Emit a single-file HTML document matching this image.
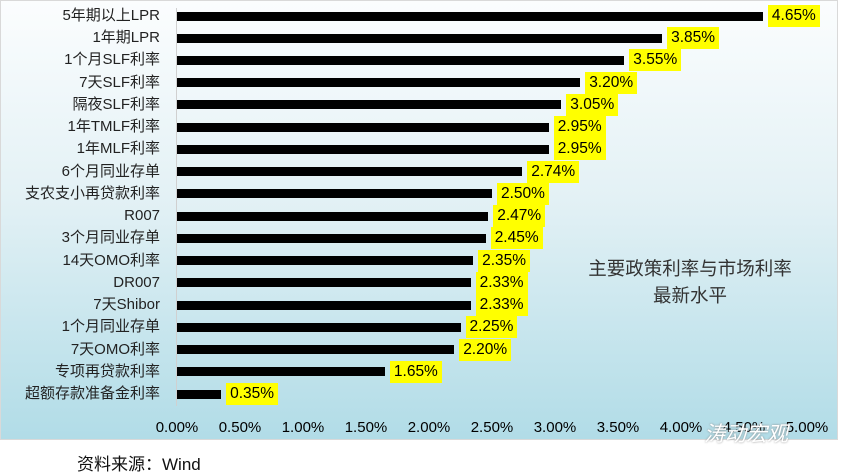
<!DOCTYPE html>
<html><head><meta charset="utf-8"><style>
body{margin:0;width:841px;height:470px;background:#fff;position:relative;overflow:hidden;font-family:"Liberation Sans","Noto Sans CJK SC",sans-serif;}
#chart{position:absolute;left:0;top:0;width:838px;height:440px;border:1px solid #d9d9d9;box-sizing:border-box;background:linear-gradient(to bottom,#fbfdfe 0%,#e3f1f5 45%,#b1dce7 100%);}
.cat{position:absolute;right:681px;font-size:15px;color:#222;white-space:nowrap;line-height:20px;}
.bar{position:absolute;left:177px;height:9px;background:#000;}
.lab{position:absolute;background:#ffff00;font-size:15.5px;color:#000;height:22px;line-height:22px;padding:0 4px;}
.tick{position:absolute;top:419px;font-size:15px;color:#000;width:60px;text-align:center;}
</style></head><body>
<div id="chart"></div>
<div style="position:absolute;left:176px;top:8px;width:1px;height:398px;background:#d0d0d0"></div>
<div id="rows"></div>
<div style="position:absolute;left:560px;top:255px;width:260px;text-align:center;font-size:18.5px;line-height:27px;color:#333">主要政策利率与市场利率<br>最新水平</div>
<div style="position:absolute;left:77px;top:450px;font-size:17px;color:#111">资料来源：Wind</div>
<div style="position:absolute;left:704px;top:418px;font-size:21px;color:#fff;font-style:italic;text-shadow:0 0 2px #888">涛动宏观</div>
<script>
var d=[["5年期以上LPR",4.65],["1年期LPR",3.85],["1个月SLF利率",3.55],["7天SLF利率",3.20],["隔夜SLF利率",3.05],["1年TMLF利率",2.95],["1年MLF利率",2.95],["6个月同业存单",2.74],["支农支小再贷款利率",2.50],["R007",2.47],["3个月同业存单",2.45],["14天OMO利率",2.35],["DR007",2.33],["7天Shibor",2.33],["1个月同业存单",2.25],["7天OMO利率",2.20],["专项再贷款利率",1.65],["超额存款准备金利率",0.35]];
var h="";
d.forEach(function(r,i){var c=16+i*22.24;var w=r[1]*126;
h+='<div class="cat" style="top:'+(c-10)+'px">'+r[0]+'</div>';
h+='<div class="bar" style="top:'+(c-4.5)+'px;width:'+w+'px"></div>';
h+='<div class="lab" style="top:'+(c-11)+'px;left:'+(177+w+5)+'px">'+r[1].toFixed(2)+'%</div>';});
for(var k=0;k<=10;k++){h+='<div class="tick" style="left:'+(177+k*63-30)+'px">'+(k*0.5).toFixed(2)+'%</div>';}
document.getElementById("rows").innerHTML=h;
</script>
</body></html>
